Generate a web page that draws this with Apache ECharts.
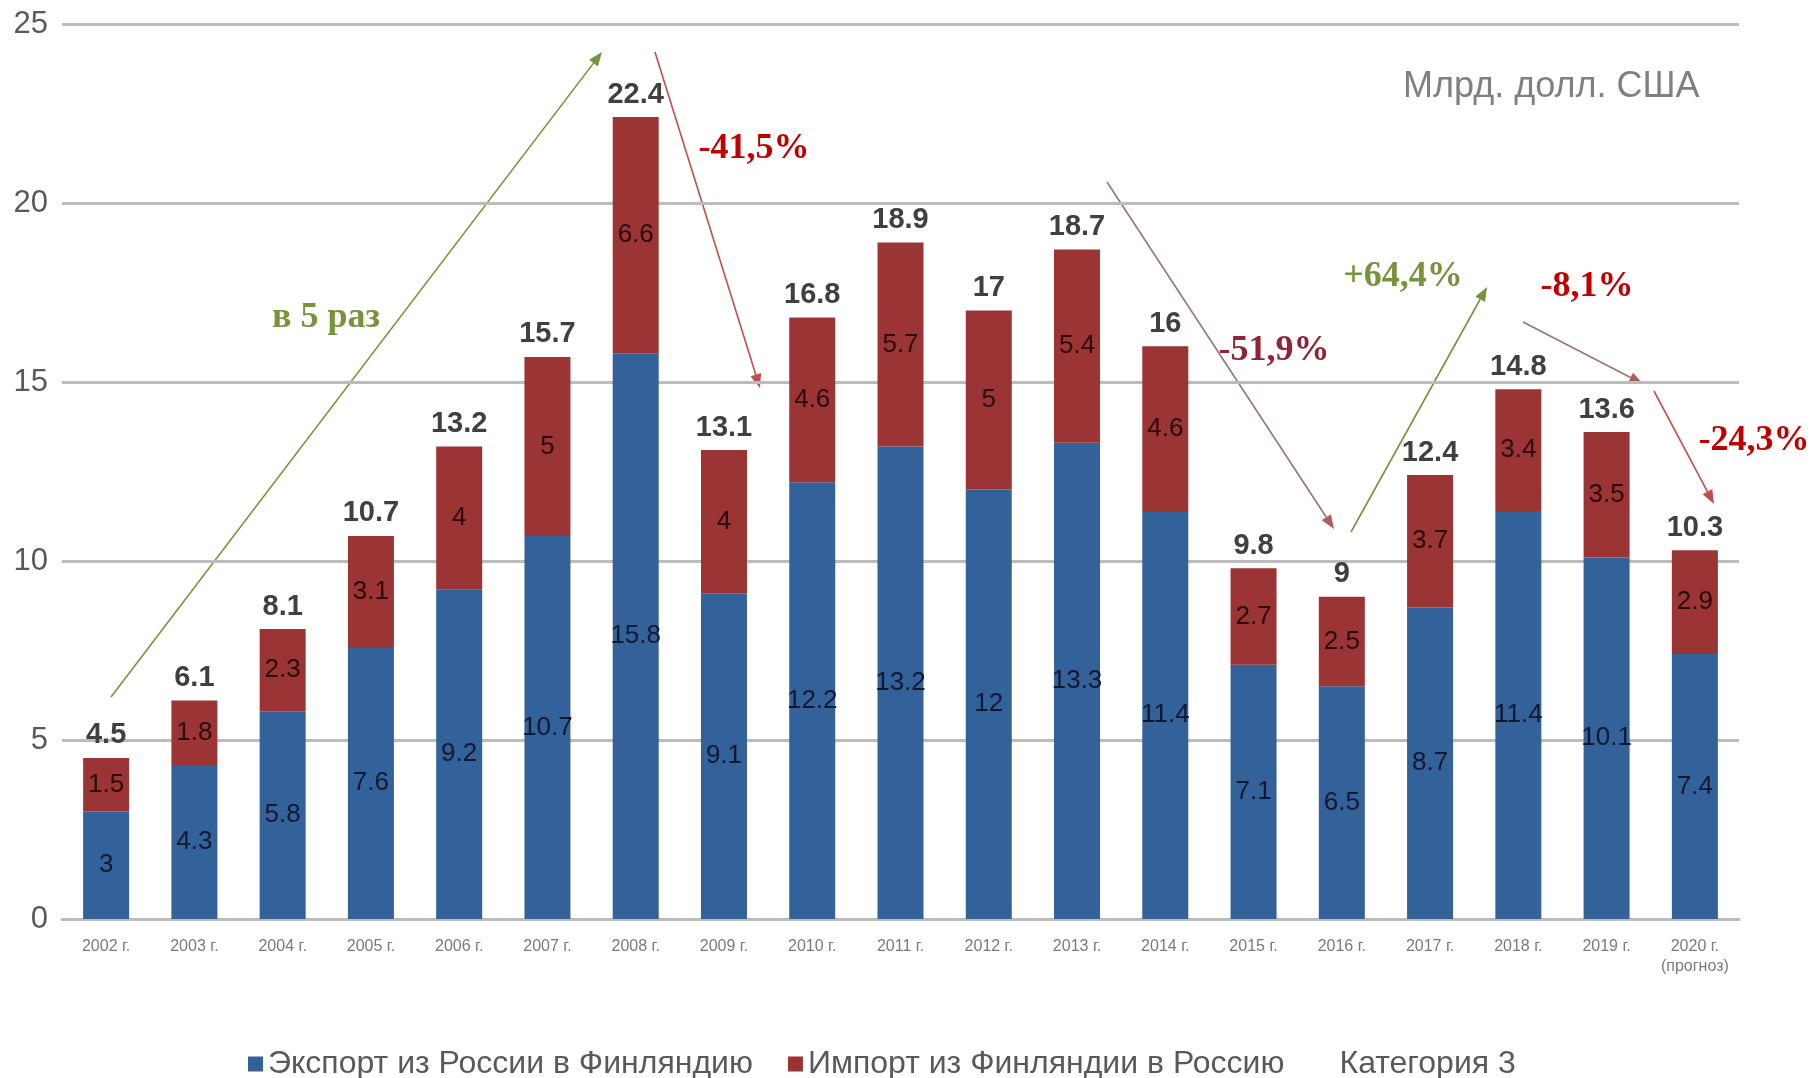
<!DOCTYPE html>
<html>
<head>
<meta charset="utf-8">
<script src="https://cdn.jsdelivr.net/npm/echarts@6/dist/echarts.min.js"></script>
<style>
  html, body { margin: 0; padding: 0; background: #fff; }
  #chart { width: 1814px; height: 1078px; }
</style>
</head>
<body>
<div id="chart"></div>
<script>
const years = ['2002 г.', '2003 г.', '2004 г.', '2005 г.', '2006 г.', '2007 г.', '2008 г.', '2009 г.', '2010 г.',
  '2011 г.', '2012 г.', '2013 г.', '2014 г.', '2015 г.', '2016 г.', '2017 г.', '2018 г.', '2019 г.', '2020 г.\n(прогноз)'];
const exportRu = [3, 4.3, 5.8, 7.6, 9.2, 10.7, 15.8, 9.1, 12.2, 13.2, 12, 13.3, 11.4, 7.1, 6.5, 8.7, 11.4, 10.1, 7.4];
const importFi = [1.5, 1.8, 2.3, 3.1, 4, 5, 6.6, 4, 4.6, 5.7, 5, 5.4, 4.6, 2.7, 2.5, 3.7, 3.4, 3.5, 2.9];
const totals = [4.5, 6.1, 8.1, 10.7, 13.2, 15.7, 22.4, 13.1, 16.8, 18.9, 17, 18.7, 16, 9.8, 9, 12.4, 14.8, 13.6, 10.3];
const yTicks = [0, 5, 10, 15, 20, 25];

// annotation arrows: [x1, y1, x2, y2, line colour, head colour]
const arrows = [
  [111, 697, 602, 52, '#77933c', '#77933c'],
  [655, 52, 760, 388, '#c0504d', '#c0504d'],
  [1107, 182, 1334, 529, '#9a7474', '#b35a5a'],
  [1351, 532, 1487, 287, '#77933c', '#77933c'],
  [1523, 322, 1643, 384, '#9a7474', '#b35a5a'],
  [1654, 391, 1714, 504, '#c0504d', '#c0504d']
];
// annotation texts: [text, x, y, colour]
const notes = [
  ['в 5 раз', 326, 318, '#77933c'],
  ['-41,5%', 754, 149, '#c00000'],
  ['-51,9%', 1274, 351, '#8e2435'],
  ['+64,4%', 1403, 277, '#77933c'],
  ['-8,1%', 1587, 287, '#c00000'],
  ['-24,3%', 1754, 441, '#c00000']
];

function arrowGraphics(a) {
  const [x1, y1, x2, y2, col, head] = a;
  const ang = Math.atan2(y2 - y1, x2 - x1);
  const L = 14, W = 5.5;
  const c = Math.cos(ang), s = Math.sin(ang);
  const bx = x2 - L * c, by = y2 - L * s;
  return [
    { type: 'line', shape: { x1: x1, y1: y1, x2: bx, y2: by }, style: { stroke: col, lineWidth: 1.6 } },
    { type: 'polygon', shape: { points: [[x2, y2], [bx - W * s, by + W * c], [bx + W * s, by - W * c]] }, style: { fill: head } }
  ];
}

const graphics = [];
arrows.forEach(a => graphics.push(...arrowGraphics(a)));
notes.forEach(n => graphics.push({
  type: 'text', x: n[1], y: n[2], z: 10,
  style: { text: n[0], fill: n[3], font: 'bold 36px "Liberation Serif", "Times New Roman", serif', align: 'center', verticalAlign: 'middle' }
}));

const chart = echarts.init(document.getElementById('chart'));
chart.setOption({
  animation: false,
  textStyle: { fontFamily: '"Liberation Sans", Arial, sans-serif' },
  title: {
    text: 'Млрд. долл. США', left: 1398, top: 64,
    textStyle: { fontSize: 36, fontWeight: 'normal', color: '#808080' }
  },
  legend: {
    left: 243, top: 1043,
    itemWidth: 15, itemHeight: 15, itemGap: 35,
    icon: 'rect',
    textStyle: { fontSize: 32, color: '#595959' },
    data: ['Экспорт из России в Финляндию', 'Импорт из Финляндии в Россию', 'Категория 3']
  },
  grid: { left: 62, right: 75, top: 24, bottom: 159, containLabel: false },
  xAxis: {
    type: 'category', data: years,
    axisTick: { show: false },
    axisLine: { lineStyle: { color: '#bcbcbc', width: 3 } },
    axisLabel: { fontSize: 16, color: '#7a7a7a', margin: 18, lineHeight: 20, interval: 0 }
  },
  yAxis: {
    type: 'value', min: yTicks[0], max: yTicks[yTicks.length - 1], interval: 5,
    axisLine: { show: false }, axisTick: { show: false },
    axisLabel: { fontSize: 31, color: '#595959', margin: 14 },
    splitLine: { lineStyle: { color: '#bcbcbc', width: 3 } }
  },
  series: [
    {
      name: 'Экспорт из России в Финляндию', type: 'bar', stack: 'trade', barWidth: 46,
      data: exportRu,
      itemStyle: { color: '#33619a' },
      label: { show: true, position: 'inside', fontSize: 26, color: '#0e1830' }
    },
    {
      name: 'Импорт из Финляндии в Россию', type: 'bar', stack: 'trade', barWidth: 46,
      data: importFi,
      itemStyle: { color: '#9b3434' },
      label: { show: true, position: 'inside', fontSize: 26, color: '#2a0808' }
    },
    {
      name: 'Категория 3', type: 'bar', barWidth: 46, barGap: '-100%',
      data: totals,
      itemStyle: { color: 'rgba(255,255,255,0)' },
      label: { show: true, position: 'top', distance: 8, fontSize: 29, fontWeight: 'bold', color: '#404040' }
    }
  ],
  graphic: graphics
});
</script>
</body>
</html>
